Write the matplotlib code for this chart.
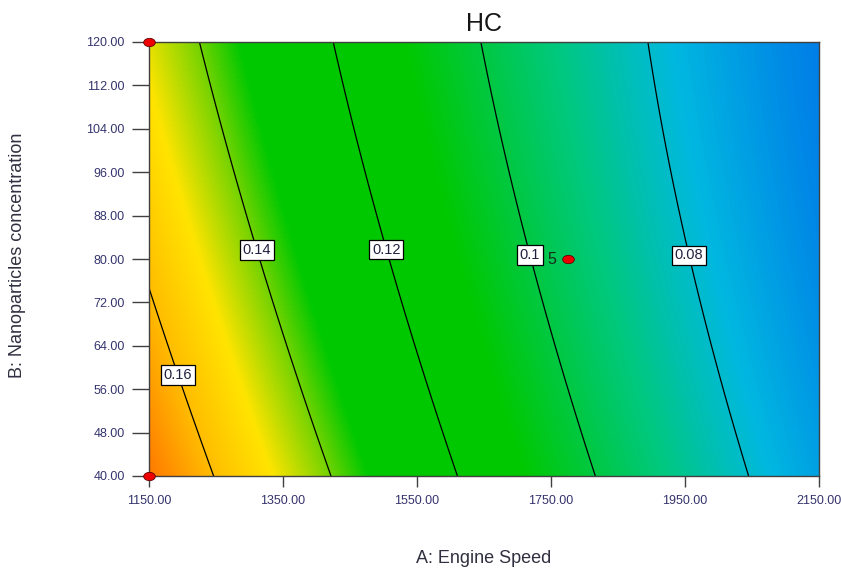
import numpy as np
import matplotlib
matplotlib.use("Agg")
import matplotlib.pyplot as plt
from matplotlib.colors import LinearSegmentedColormap, Normalize
from matplotlib.path import Path
from matplotlib.transforms import Affine2D

plt.rcParams['font.family'] = ['Liberation Sans', 'DejaVu Sans']

# factor ranges
speed_range = [1150, 2150]
conc_range = [40, 120]
speed_ticks = [1150, 1350, 1550, 1750, 1950, 2150]
conc_ticks = [40, 48, 56, 64, 72, 80, 88, 96, 104, 112, 120]

# quadratic model for HC in coded units (A, B scaled to -1..1)
b0 = 0.1064
bA = -0.0464
bB = -0.0082
bAB = 0.0036
bAA = 0.0056
bBB = 0.0014

contour_levels = [0.08, 0.10, 0.12, 0.14, 0.16]
label_spots = [(1953, 80.6), (1716, 80.6), (1504, 81.7), (1313, 81.7), (1202, 59.0)]

# design points
pt_speed = [1150, 1150, 1775]
pt_conc = [120, 40, 80]
center_reps = 5

# colour scale (response value, rgb)
cmap_vals = [0.060, 0.066, 0.077, 0.090, 0.110, 0.134, 0.141, 0.150, 0.160, 0.172]
cmap_cols = ['#0076e8', '#008ce6', '#00b8e0', '#00c882', '#00c800',
             '#00c800', '#7fd400', '#ffe400', '#ffbe00', '#ff7800']


def hc(A, B):
    x = (A - 1650) / 500.0
    y = (B - 80) / 40.0
    return b0 + bA * x + bB * y + bAB * x * y + bAA * x ** 2 + bBB * y ** 2


lo, hi = cmap_vals[0], cmap_vals[-1]
stops = [((v - lo) / (hi - lo), c) for v, c in zip(cmap_vals, cmap_cols)]
cmap = LinearSegmentedColormap.from_list('de', stops)

A = np.linspace(speed_range[0], speed_range[1], 500)
B = np.linspace(conc_range[0], conc_range[1], 400)
AA, BB = np.meshgrid(A, B)
Z = hc(AA, BB)

fig = plt.figure(figsize=(8.41, 5.70), dpi=100)
ax = fig.add_axes([149 / 841, 1 - 476 / 570, 670 / 841, 434 / 570])

ax.imshow(Z, origin='lower', aspect='auto', cmap=cmap, norm=Normalize(lo, hi),
          extent=[speed_range[0], speed_range[1], conc_range[0], conc_range[1]],
          interpolation='bilinear')
cs = ax.contour(AA, BB, Z, levels=contour_levels, colors='black', linewidths=0.9)
labels = ax.clabel(cs, fmt=lambda v: f'{v:g}', manual=label_spots, inline=False, fontsize=10.5)
for t in labels:
    t.set_rotation(0)
    t.set_color('#202040')
    t.set_bbox(dict(facecolor='white', edgecolor='black', linewidth=0.9, pad=2.0))

# ellipse marker for design points
ell = Path.unit_circle().transformed(Affine2D().scale(1.4, 1.0))
ax.scatter(pt_speed, pt_conc, marker=ell, s=70, facecolor='#ee0000',
           edgecolor='#600000', linewidth=0.6, clip_on=False, zorder=5)
ax.annotate(str(center_reps), (pt_speed[2], pt_conc[2]), xytext=(-8, 0),
            textcoords='offset points', ha='right', va='center',
            fontsize=11.5, color='#1a2a1a')

ax.set_xlim(speed_range)
ax.set_ylim(conc_range)
ax.set_xticks(speed_ticks)
ax.set_yticks(conc_ticks)
ax.set_xticklabels([f'{v:.2f}' for v in speed_ticks])
ax.set_yticklabels([f'{v:.2f}' for v in conc_ticks])
ax.tick_params(axis='x', direction='out', length=8, width=1, color='#404040',
               labelsize=9, labelcolor='#34346e', pad=6)
ax.tick_params(axis='y', direction='out', length=12.5, width=1, color='#404040',
               labelsize=9, labelcolor='#34346e', pad=5)
for s in ax.spines.values():
    s.set_color('#404040')
    s.set_linewidth(1.0)

fig.text(484 / 841, 1 - 31 / 570, 'HC', ha='center', va='baseline', fontsize=18, color='#151515')
fig.text(484 / 841, 1 - 563 / 570, 'A: Engine Speed', ha='center', va='baseline',
         fontsize=13, color='#303040')
fig.text(18 / 841, 1 - 255 / 570, 'B: Nanoparticles concentration', rotation=90,
         ha='center', va='center', fontsize=13, color='#303040')

fig.savefig('out.png', dpi=100)
